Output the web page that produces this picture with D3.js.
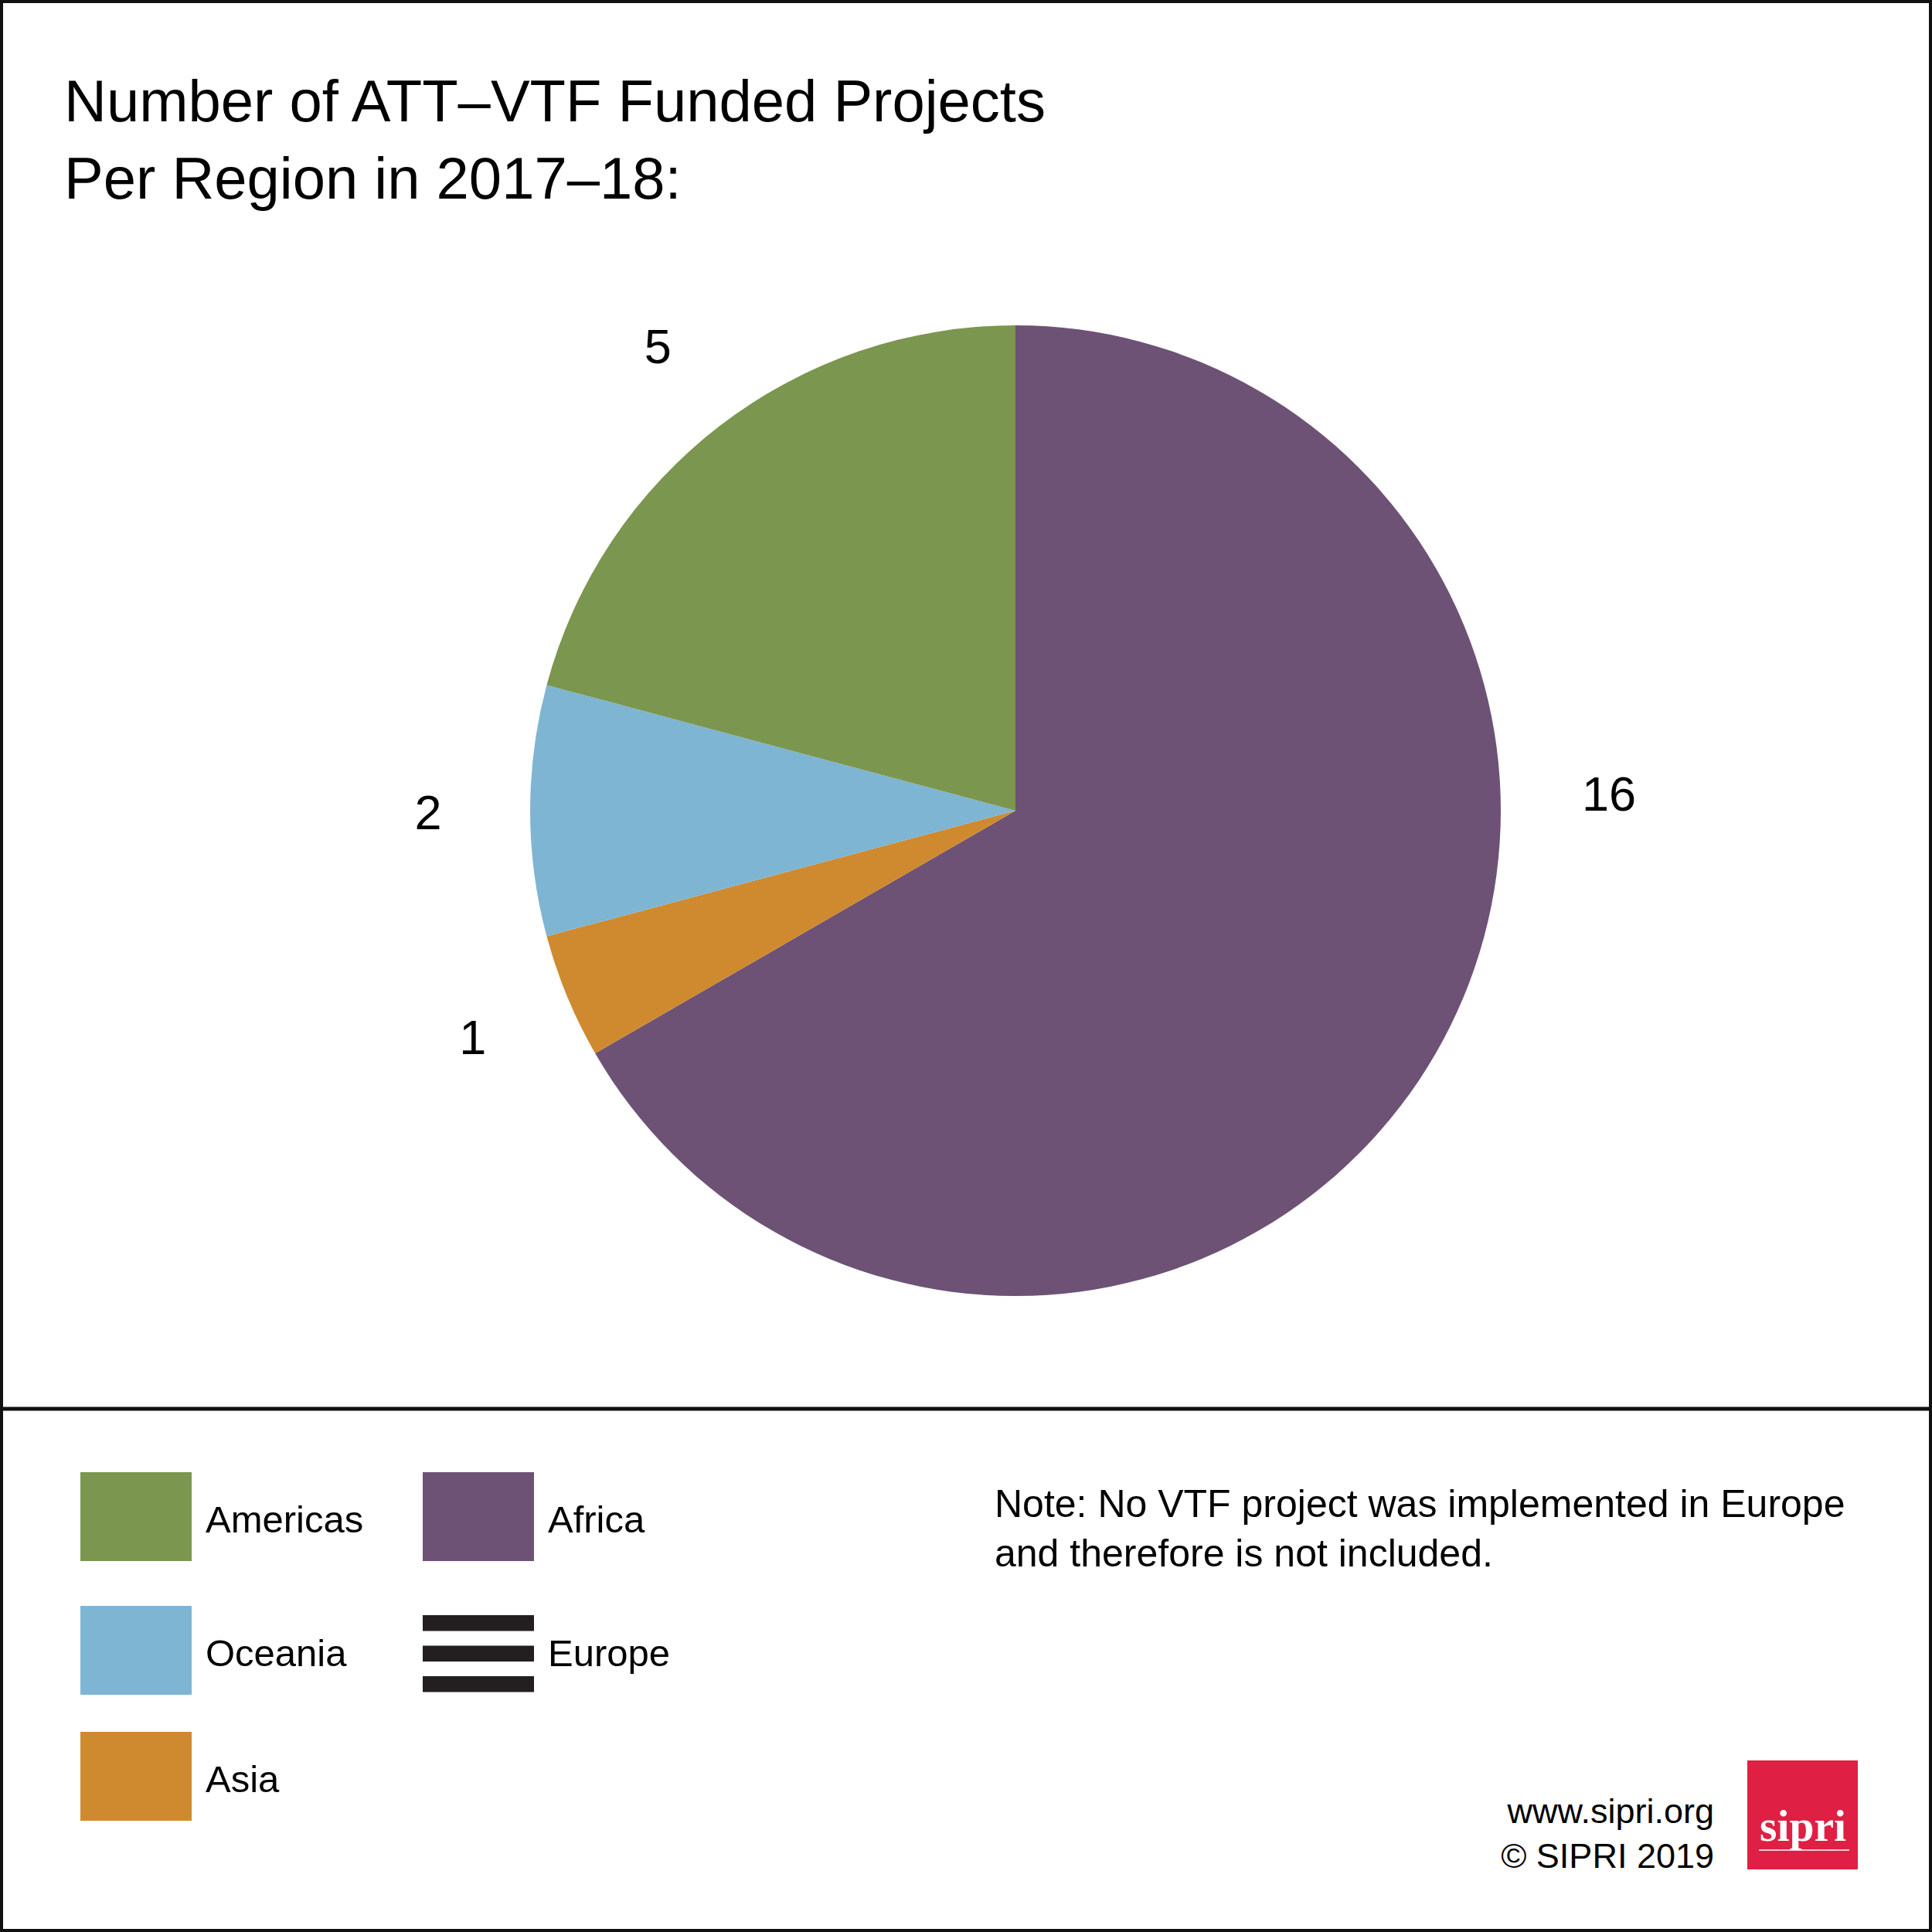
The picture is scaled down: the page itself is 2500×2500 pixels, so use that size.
<!DOCTYPE html>
<html>
<head>
<meta charset="utf-8">
<script src="https://cdn.jsdelivr.net/npm/d3@7"></script>
<style>
  html, body { margin: 0; padding: 0; background: #fff; }
  svg { display: block; }
  text { font-family: "Liberation Sans", Arial, sans-serif; fill: #000; }
</style>
</head>
<body>
<script>
// ---- data ----
const regions = ["Africa", "Asia", "Oceania", "Americas"];
const projects = [16, 1, 2, 5];
const regionColors = ["#6D5276", "#CF8A2F", "#7EB5D2", "#7B964E"];
const legendCol1 = ["Americas", "Oceania", "Asia"];
const legendCol2 = ["Africa", "Europe"];
const titleLines = ["Number of ATT\u2013VTF Funded Projects", "Per Region in 2017\u201318:"];
const noteLines = ["Note: No VTF project was implemented in Europe", "and therefore is not included."];
const footerLines = ["www.sipri.org", "\u00A9 SIPRI 2019"];

const W = 2500, H = 2500;
const svg = d3.select("body").append("svg").attr("width", W).attr("height", H);

// frame
svg.append("rect").attr("x", 2).attr("y", 2).attr("width", W - 4).attr("height", H - 4)
  .attr("fill", "#fff").attr("stroke", "#111").attr("stroke-width", 4);
svg.append("line").attr("x1", 0).attr("x2", W).attr("y1", 1823).attr("y2", 1823)
  .attr("stroke", "#111").attr("stroke-width", 5);

// title
svg.append("g").selectAll("text").data(titleLines).join("text")
  .attr("x", 83).attr("y", (d, i) => 157 + i * 100)
  .attr("font-size", 76).text(d => d);

// pie
const cx = 1314, cy = 1049, R = 628, labelR = 760;
const color = d3.scaleOrdinal().domain(regions).range(regionColors);
const pie = d3.pie().sort(null).value(d => d.v);
const arcs = pie(regions.map((r, i) => ({ r, v: projects[i] })));
const arc = d3.arc().innerRadius(0).outerRadius(R);

const g = svg.append("g").attr("transform", `translate(${cx},${cy})`);
g.selectAll("path").data(arcs).join("path")
  .attr("d", arc).attr("fill", d => color(d.data.r));

const isBig = d => (d.endAngle - d.startAngle) > Math.PI;
const labelAngle = d => isBig(d) ? Math.PI / 2 : (d.startAngle + d.endAngle) / 2;
g.selectAll("text.lbl").data(arcs).join("text").attr("class", "lbl")
  .attr("text-anchor", "middle").attr("font-size", 63)
  .attr("dy", d => isBig(d) ? "0em" : "0.38em")
  .attr("x", d => Math.sin(labelAngle(d)) * (isBig(d) ? labelR + 8 : labelR))
  .attr("y", d => -Math.cos(labelAngle(d)) * labelR)
  .text(d => d.data.v);

// legend
const rowY = [1905, 2078, 2241];
const sw = 144, sh = 115;
const leg1 = svg.append("g");
legendCol1.forEach((name, i) => {
  leg1.append("rect").attr("x", 104).attr("y", rowY[i]).attr("width", sw).attr("height", sh)
    .attr("fill", color(name));
  leg1.append("text").attr("x", 266).attr("y", rowY[i] + 78).attr("font-size", 49).text(name);
});
legendCol2.forEach((name, i) => {
  if (name === "Europe") {
    [0, 1, 2].forEach(k => {
      leg1.append("rect").attr("x", 547).attr("y", rowY[i] + 12 + k * 39.5)
        .attr("width", sw).attr("height", 20.5).attr("fill", "#231F20");
    });
  } else {
    leg1.append("rect").attr("x", 547).attr("y", rowY[i]).attr("width", sw).attr("height", sh)
      .attr("fill", color(name));
  }
  leg1.append("text").attr("x", 709).attr("y", rowY[i] + 78).attr("font-size", 49).text(name);
});

// note
svg.append("g").selectAll("text").data(noteLines).join("text")
  .attr("x", 1287).attr("y", (d, i) => 1963 + i * 64)
  .attr("font-size", 50).text(d => d);

// footer
svg.append("g").selectAll("text").data(footerLines).join("text")
  .attr("x", 2218).attr("y", (d, i) => 2359 + i * 58)
  .attr("text-anchor", "end").attr("font-size", 45).text(d => d);

// logo
svg.append("rect").attr("x", 2261).attr("y", 2278).attr("width", 143).attr("height", 141)
  .attr("fill", "#E01F44");
svg.append("text").attr("x", 2333).attr("y", 2382).attr("text-anchor", "middle")
  .style("font-family", "'Liberation Serif', 'DejaVu Serif', serif").style("font-weight", "bold")
  .attr("font-size", 58).attr("textLength", 112).attr("lengthAdjust", "spacingAndGlyphs")
  .style("fill", "#fff").text("sipri");
svg.append("line").attr("x1", 2276).attr("x2", 2393).attr("y1", 2394).attr("y2", 2394)
  .attr("stroke", "#fff").attr("stroke-width", 1.5);
</script>
</body>
</html>
